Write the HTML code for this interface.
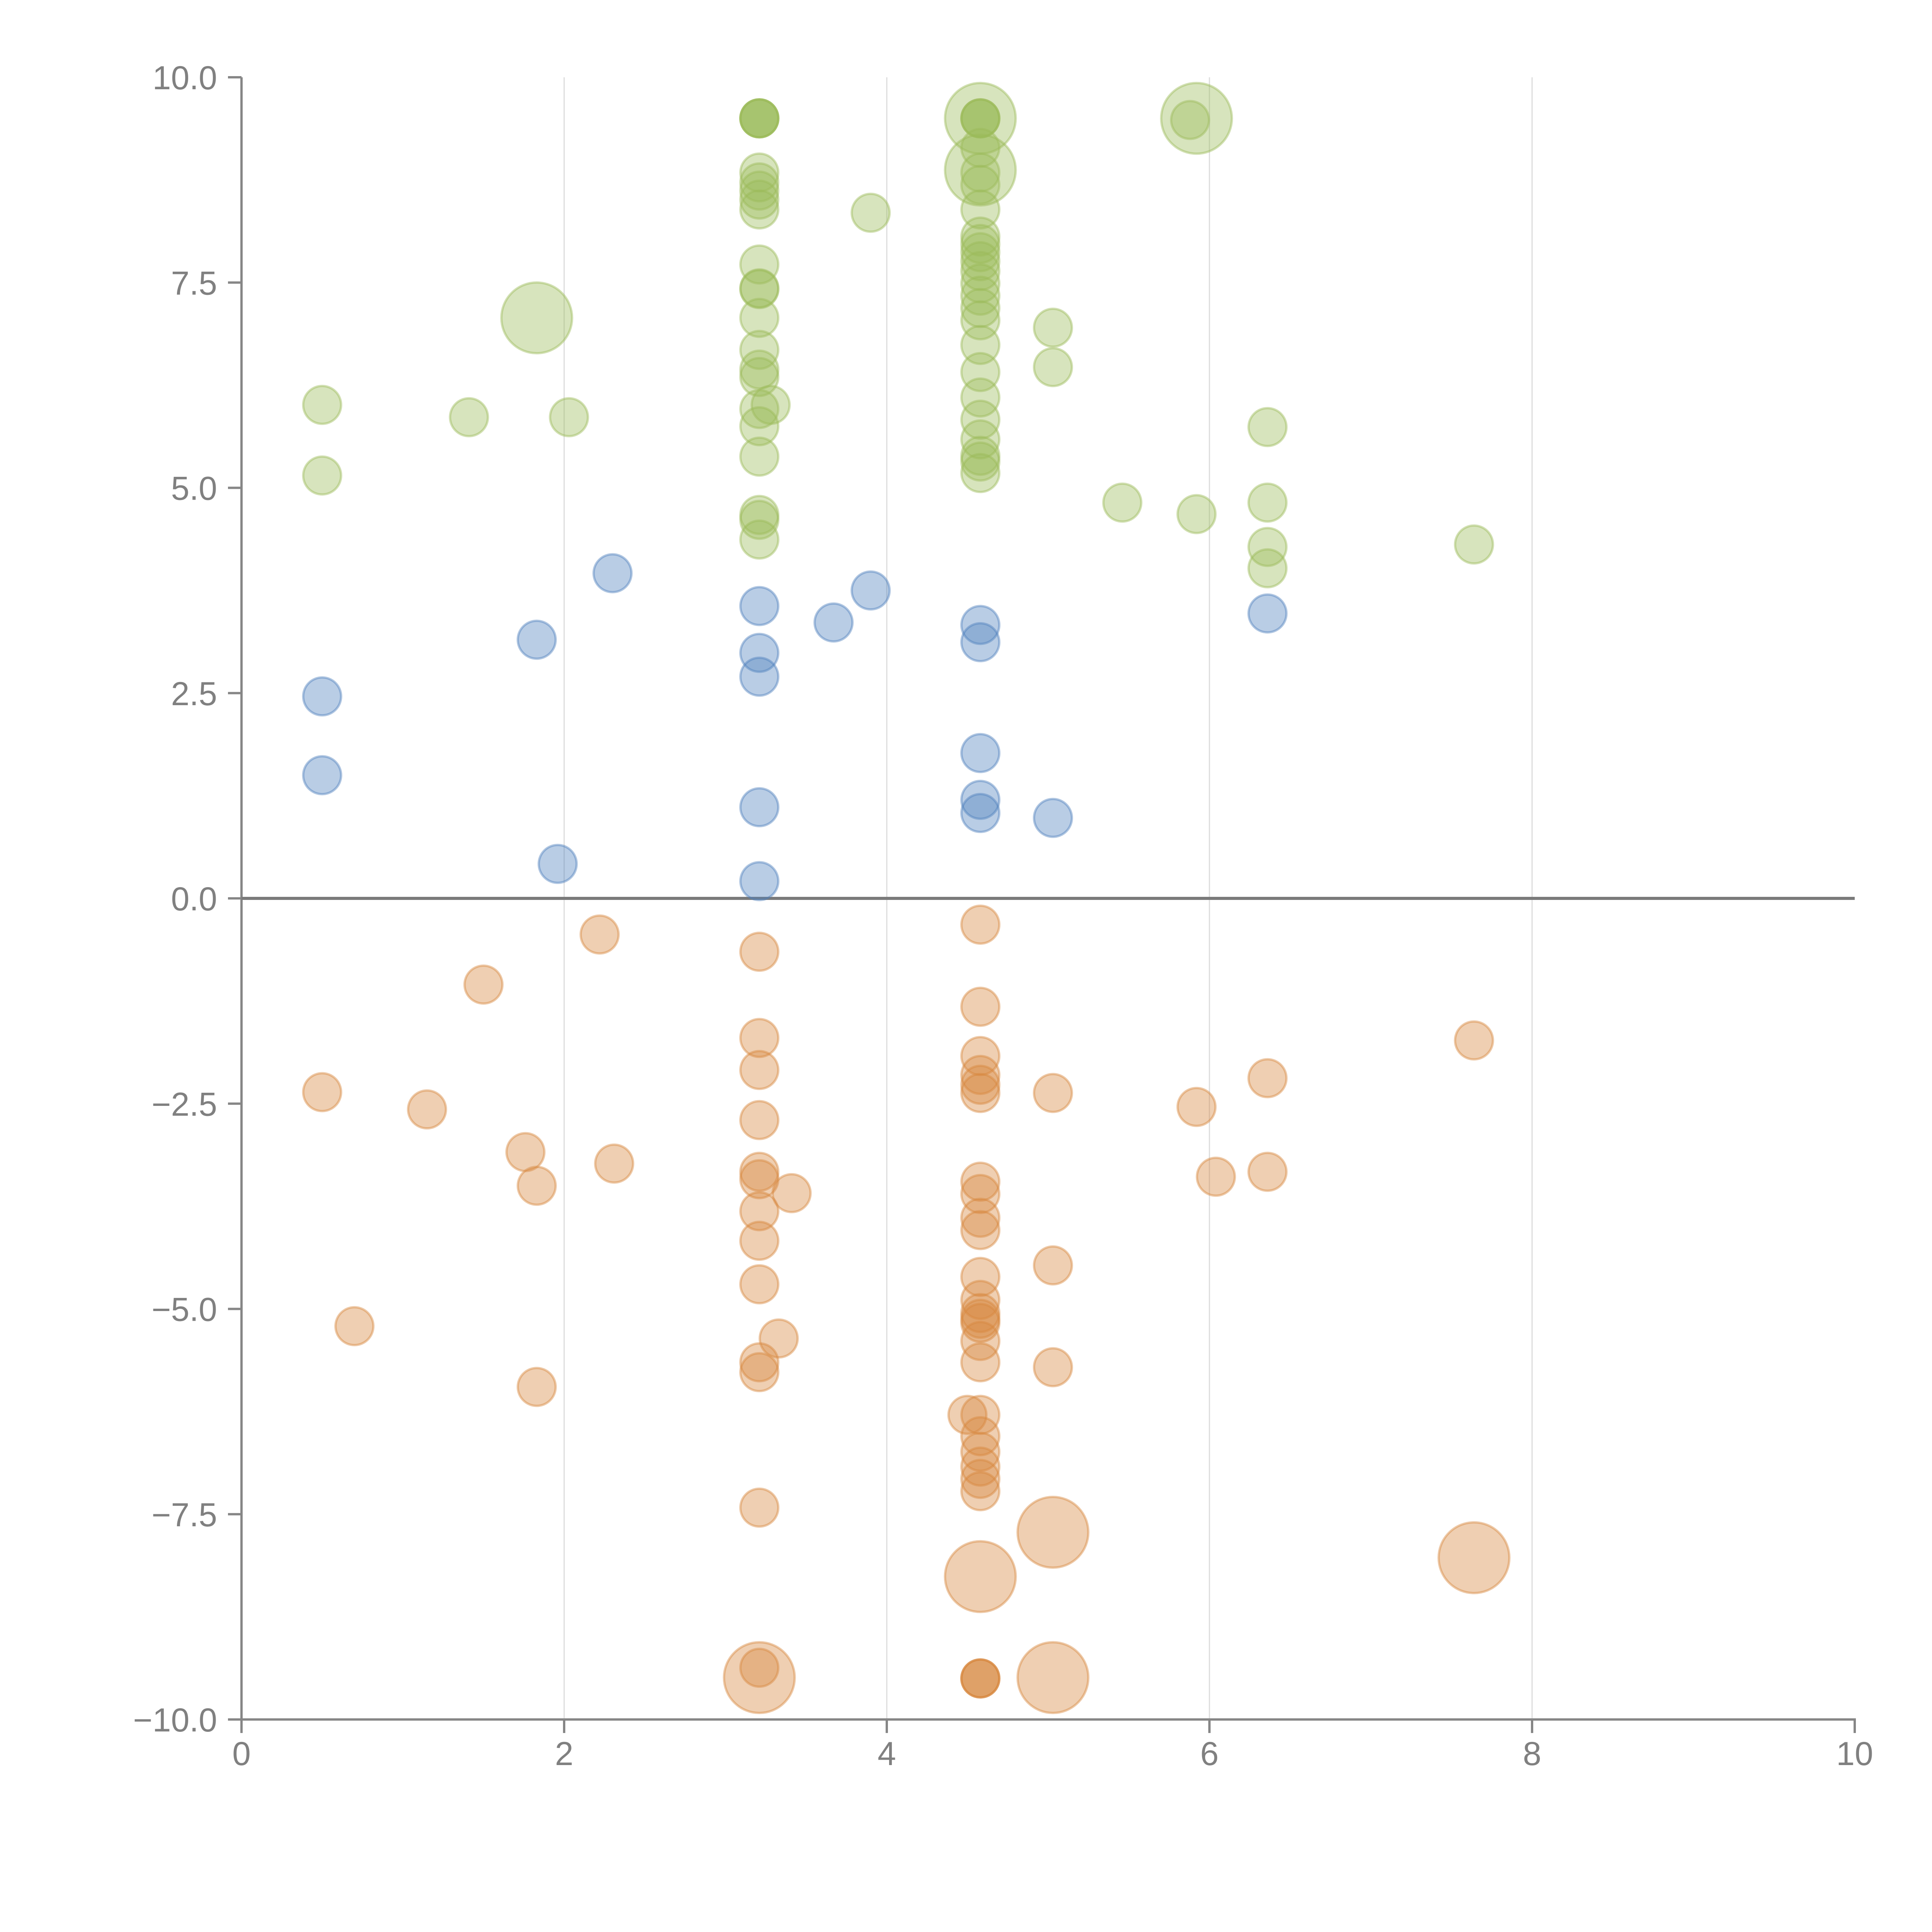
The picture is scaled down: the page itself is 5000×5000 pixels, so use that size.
<!DOCTYPE html>
<html><head><meta charset="utf-8"><style>
html,body{margin:0;padding:0;background:#fff;}
svg{display:block;font-family:"Liberation Sans",Arial,sans-serif;}
</style></head><body>
<svg id="chart" width="5000" height="5000" viewBox="0 0 5000 5000" xmlns="http://www.w3.org/2000/svg">
<g id="grid"></g>
<g id="axes"></g>
<g id="marks"></g>
</svg>
<script>
const xTicks = [0, 2, 4, 6, 8, 10];
const xTickLabels = ["0", "2", "4", "6", "8", "10"];
const yTicks = [-10, -7.5, -5, -2.5, 0, 2.5, 5, 7.5, 10];
const yTickLabels = ["\u221210.0", "\u22127.5", "\u22125.0", "\u22122.5", "0.0", "2.5", "5.0", "7.5", "10.0"];

const greenX = [3.21,3.21,3.21,3.21,4.58,4.58,4.58,4.58,5.92,5.88,3.21,3.21,3.21,3.21,3.21,3.9,4.58,4.58,4.58,4.58,4.58,4.58,4.58,4.58,4.58,4.58,4.58,4.58,4.58,4.58,4.58,1.83,3.21,3.21,3.21,3.21,3.21,3.21,3.21,3.21,3.28,3.21,3.21,3.21,3.21,3.21,0.5,0.5,1.41,2.03,4.58,4.58,4.58,4.58,4.58,4.58,4.58,5.03,5.03,5.46,5.92,6.36,6.36,6.36,6.36,7.64];
const greenY = [9.5,9.5,9.5,9.5,9.5,9.5,9.5,9.5,9.5,9.48,8.84,8.72,8.62,8.51,8.39,8.35,9.14,8.87,8.84,8.69,8.39,8.06,7.97,7.87,7.76,7.64,7.49,7.34,7.19,7.04,6.74,7.07,7.72,7.43,7.42,7.07,6.68,6.44,6.35,5.96,6.01,5.75,5.38,4.67,4.61,4.37,6.01,5.15,5.86,5.86,6.41,6.1,5.83,5.59,5.39,5.32,5.18,6.95,6.47,4.82,4.68,5.74,4.82,4.28,4.02,4.31];
const greenS = [1,1,1,1,3.3,1,1,1,3.3,1,1,1,1,1,1,1,1,3.3,1,1,1,1,1,1,1,1,1,1,1,1,1,3.3,1,1,1,1,1,1,1,1,1,1,1,1,1,1,1,1,1,1,1,1,1,1,1,1,1,1,1,1,1,1,1,1,1,1];

const blueX = [0.5,0.5,1.83,2.3,1.96,3.21,3.21,3.21,3.21,3.21,3.67,3.9,4.58,4.58,4.58,4.58,4.58,5.03,6.36];
const blueY = [2.46,1.5,3.15,3.96,0.42,3.56,2.99,2.7,1.11,0.21,3.36,3.75,3.33,3.12,1.77,1.2,1.04,0.98,3.47];
const blueS = [1,1,1,1,1,1,1,1,1,1,1,1,1,1,1,1,1,1,1];

const orangeX = [0.5,0.7,1.15,1.5,1.76,1.83,1.83,2.22,2.31,3.21,3.21,3.21,3.21,3.21,3.21,3.21,3.21,3.21,3.21,3.21,3.21,3.21,3.21,3.33,3.41,4.58,4.58,4.58,4.58,4.58,4.58,4.58,4.58,4.58,4.58,4.58,4.58,4.58,4.58,4.58,4.58,4.5,4.58,4.58,4.58,4.58,4.58,4.58,4.58,4.58,4.58,4.58,4.58,5.03,5.03,5.03,5.03,5.03,5.92,6.04,6.36,6.36,7.64,7.64];
const orangeY = [-2.36,-5.21,-2.57,-1.05,-3.09,-3.5,-5.95,-0.44,-3.23,-0.65,-1.7,-2.09,-2.7,-3.33,-3.42,-3.81,-4.17,-4.7,-5.65,-5.77,-7.42,-9.37,-9.49,-5.36,-3.59,-0.32,-1.32,-1.92,-2.15,-2.27,-2.37,-3.45,-3.6,-3.89,-4.04,-4.61,-4.89,-5.05,-5.17,-5.39,-5.65,-6.29,-6.29,-6.55,-6.74,-6.92,-7.07,-7.22,-8.26,-9.5,-9.5,-9.5,-5.12,-2.37,-4.47,-5.71,-7.72,-9.49,-2.54,-3.39,-2.19,-3.33,-1.73,-8.03];
const orangeS = [1,1,1,1,1,1,1,1,1,1,1,1,1,1,1,1,1,1,1,1,1,1,3.3,1,1,1,1,1,1,1,1,1,1,1,1,1,1,1,1,1,1,1,1,1,1,1,1,1,3.3,1,1,1,1,1,1,1,3.3,3.3,1,1,1,1,1,3.3];

const X0 = 625, X1 = 4800, Y0 = 4450, Y1 = 200;
function sx(v){ return X0 + (v - 0) / 10 * (X1 - X0); }
function sy(v){ return Y0 - (v + 10) / 20 * (Y0 - Y1); }
function sr(s){ return 52 * Math.sqrt(s); }
const NS = "http://www.w3.org/2000/svg";
function mk(tag, parent, attrs){
  const e = document.createElementNS(NS, tag);
  for (const k in attrs) e.setAttribute(k, attrs[k]);
  parent.appendChild(e);
  return e;
}
const grid = document.getElementById('grid');
const axes = document.getElementById('axes');
const marks = document.getElementById('marks');

xTicks.forEach((t, i) => {
  if (t > 0 && t < 10) {
    const g = mk('line', grid, {x1: sx(t), x2: sx(t), y1: Y1, y2: Y0, stroke: '#dcdcdc', 'stroke-width': 3});
    
    
  }
  const tk = mk('line', axes, {x1: sx(t), x2: sx(t), y1: Y0, y2: Y0 + 35, stroke: '#868686', 'stroke-width': 6});
  
  
  const tx = mk('text', axes, {x: sx(t), y: 4568, 'text-anchor': 'middle', 'font-size': 86, fill: '#808080'});
  tx.textContent = xTickLabels[i];
  
  
});
yTicks.forEach((t, i) => {
  const tk = mk('line', axes, {x1: X0 - 35, x2: X0, y1: sy(t), y2: sy(t), stroke: '#868686', 'stroke-width': 6});
  
  
  const tx = mk('text', axes, {x: 562, y: sy(t) + 31, 'text-anchor': 'end', 'font-size': 86, fill: '#808080'});
  tx.textContent = yTickLabels[i];
  
  
});
const ya = mk('line', axes, {x1: X0, x2: X0, y1: Y1, y2: Y0 + 3, stroke: '#868686', 'stroke-width': 6});


const xa = mk('line', axes, {x1: X0 - 3, x2: X1 + 3, y1: Y0, y2: Y0, stroke: '#868686', 'stroke-width': 6});


const zl = mk('line', axes, {x1: X0, x2: X1, y1: sy(0), y2: sy(0), stroke: '#7a7a7a', 'stroke-width': 8});



function drawSeries(xs, ys, ss, color, name){
  const g = mk('g', marks, {});
  
  
  xs.forEach((x, i) => {
    const c = mk('circle', g, {cx: sx(x), cy: sy(ys[i]), r: sr(ss[i]) - 3, fill: color, 'fill-opacity': 0.4, stroke: color, 'stroke-opacity': 0.45, 'stroke-width': 6});
    
    
  });
}
drawSeries(greenX, greenY, greenS, '#9bbb59', 'green');
drawSeries(blueX, blueY, blueS, '#4f81bd', 'blue');
drawSeries(orangeX, orangeY, orangeS, '#d8873e', 'orange');
</script>
</body></html>
